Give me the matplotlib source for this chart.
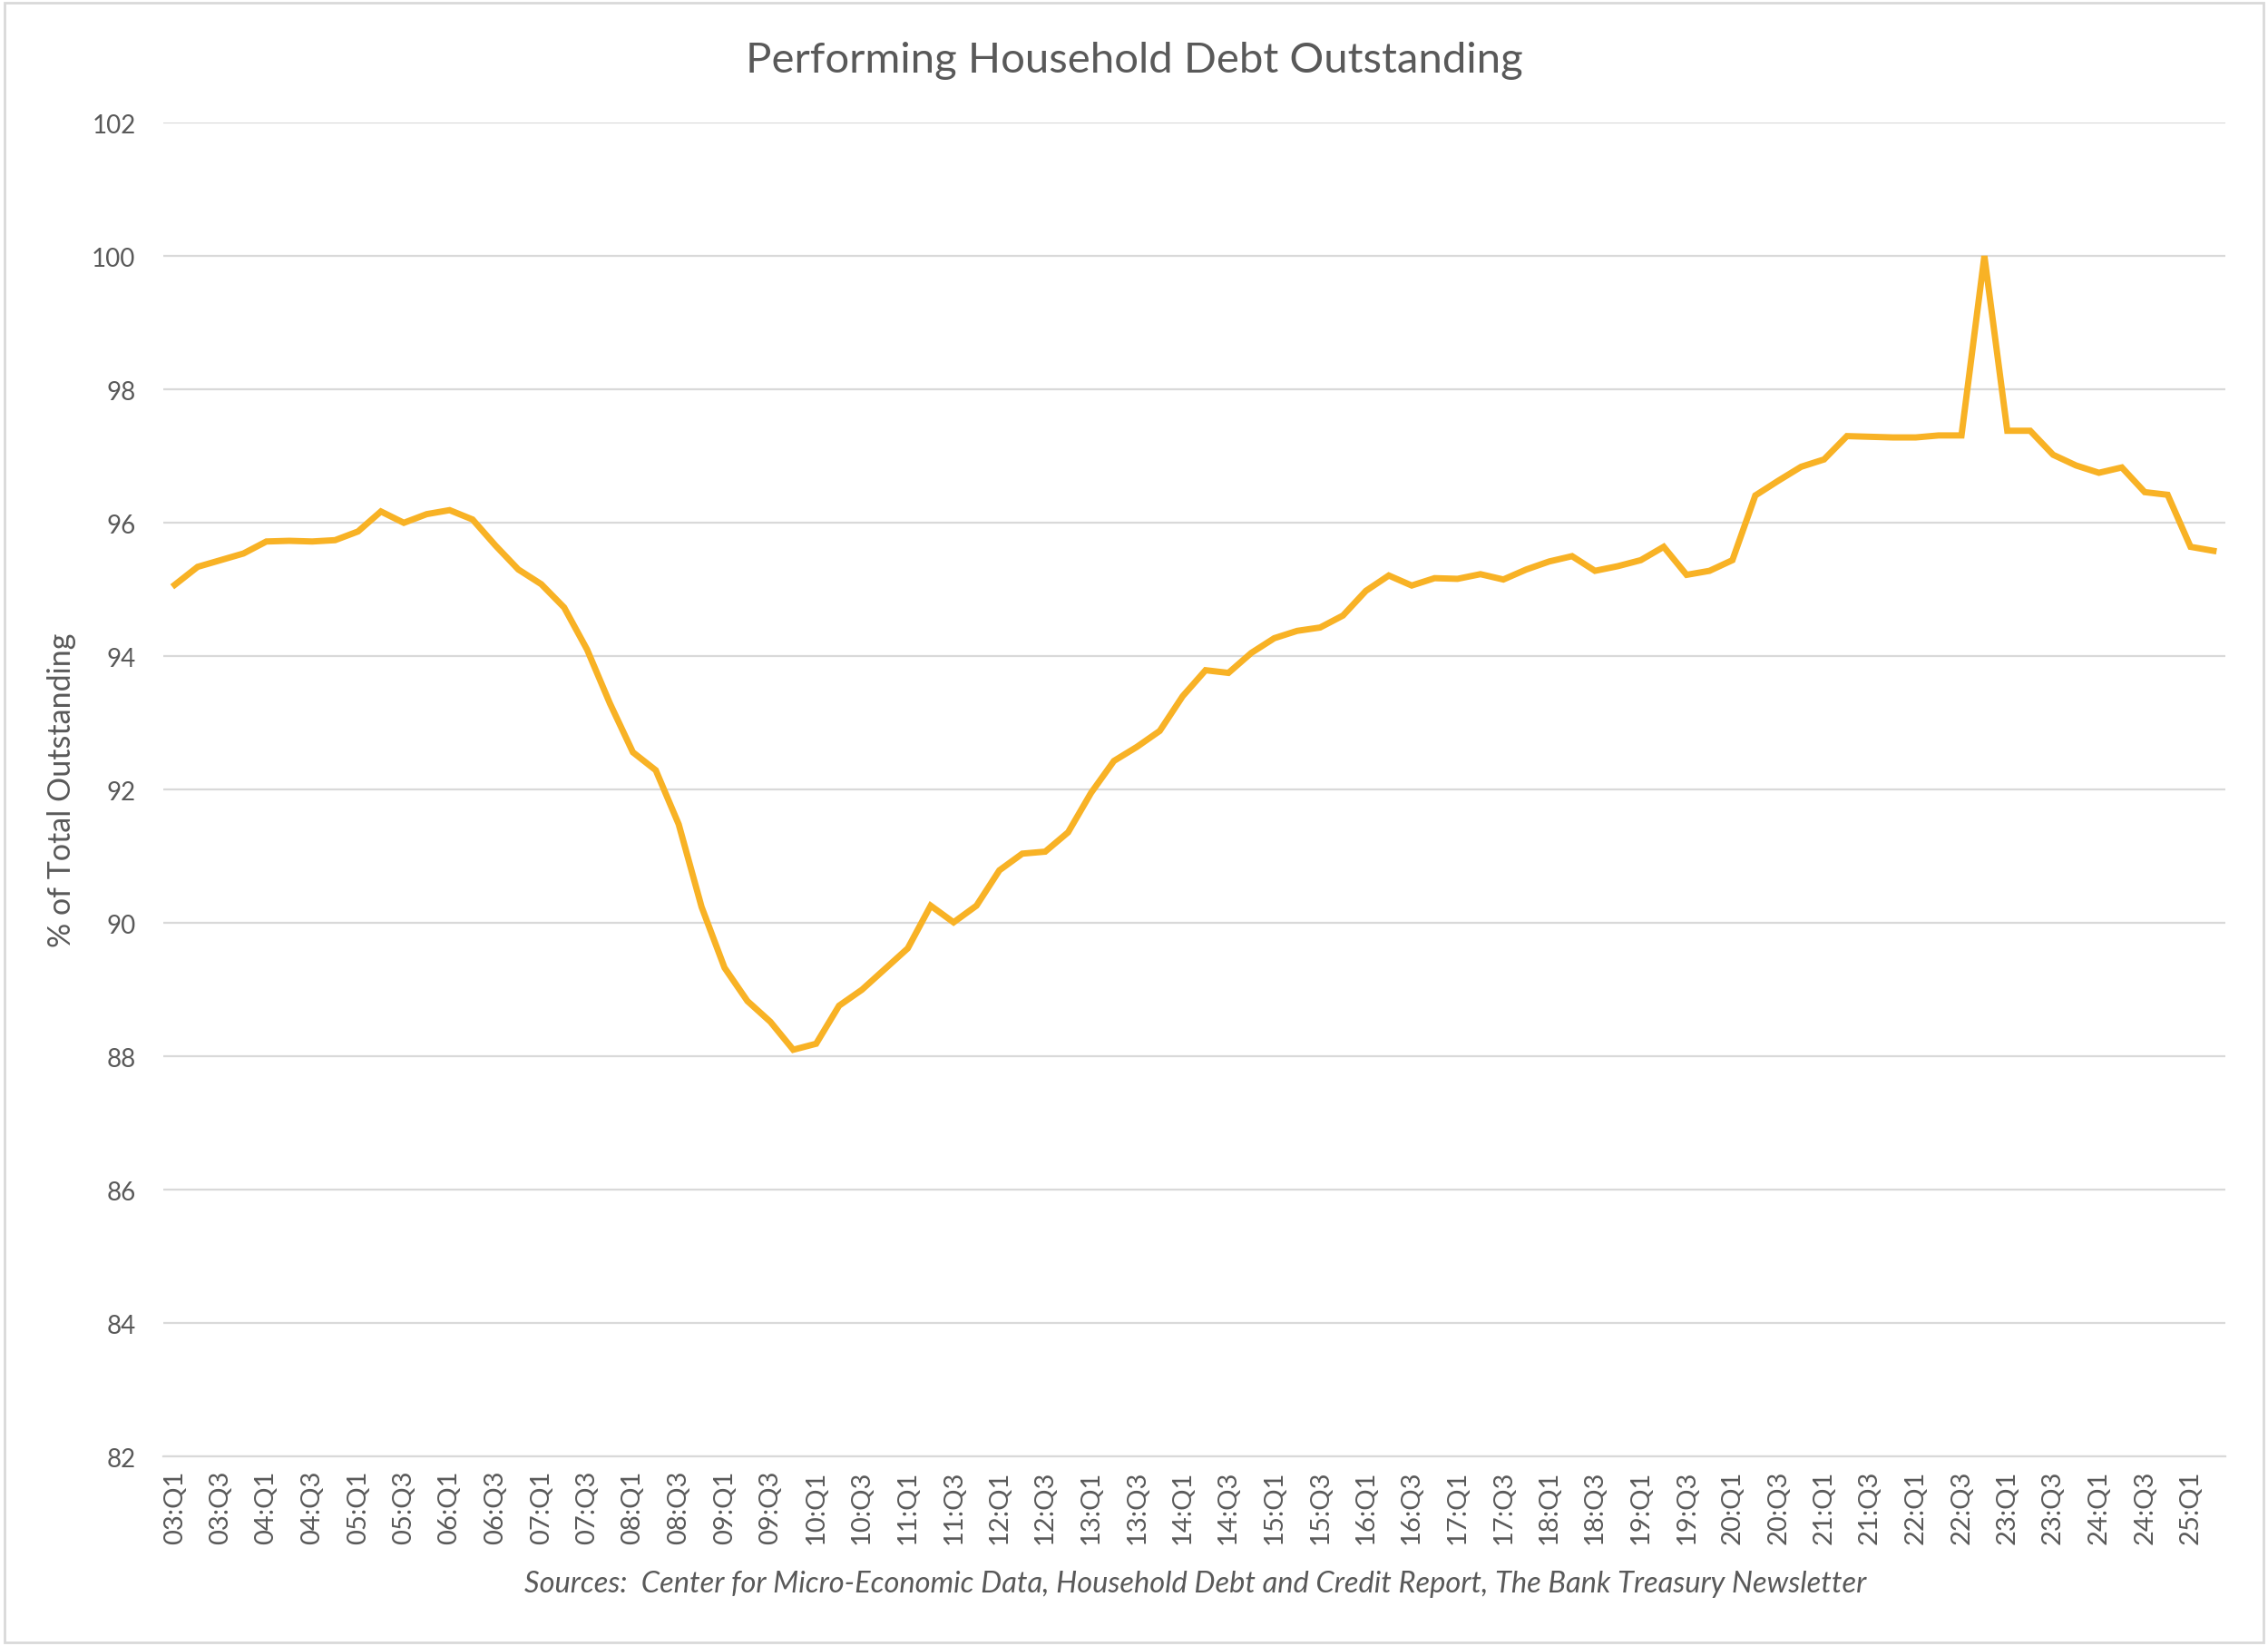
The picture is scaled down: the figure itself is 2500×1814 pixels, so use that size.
import matplotlib
matplotlib.use("Agg")
import matplotlib.pyplot as plt
from matplotlib.patches import Rectangle

# ---- data ----
years = list(range(3, 26))
quarters = [f"{y:02d}:Q{q}" for y in years for q in (1, 2, 3, 4)][:90]

values = [
    95.07, 95.34, 95.44, 95.54, 95.72, 95.73, 95.72, 95.74,
    95.87, 96.17, 96.00, 96.13, 96.19, 96.05, 95.66, 95.30,
    95.08, 94.73, 94.10, 93.29, 92.56, 92.29, 91.48, 90.24,
    89.33, 88.83, 88.52, 88.10, 88.19, 88.76, 89.00, 89.31,
    89.62, 90.26, 90.01, 90.26, 90.79, 91.04, 91.07, 91.36,
    91.95, 92.43, 92.64, 92.88, 93.40, 93.79, 93.75, 94.05,
    94.27, 94.38, 94.43, 94.61, 94.98, 95.21, 95.06, 95.17,
    95.16, 95.23, 95.15, 95.30, 95.42, 95.50, 95.28, 95.35,
    95.44, 95.64, 95.22, 95.28, 95.44, 96.41, 96.63, 96.84,
    96.95, 97.30, 97.29, 97.28, 97.28, 97.31, 97.31, 100.00,
    97.38, 97.38, 97.02, 96.86, 96.75, 96.83, 96.46, 96.42,
    95.64, 95.58,
]

y_ticks = list(range(82, 103, 2))
title = "Performing Household Debt Outstanding"
ylabel = "% of Total Outstanding"
source = "Sources:  Center for Micro-Economic Data, Household Debt and Credit Report, The Bank Treasury Newsletter"

TEXT = "#595959"
LINE = "#F8B225"
GRID = "#D9D9D9"

plt.rcParams['font.family'] = ['Lato', 'DejaVu Sans']

fig = plt.figure(figsize=(25, 18.15), dpi=100)
ax = fig.add_axes([0.072, 0.115, 0.909, 0.810])

x = list(range(len(values)))
ax.plot(x, values, color=LINE, lw=5, solid_joinstyle='miter', zorder=3)

ax.set_xlim(-0.5, len(values) - 0.5)
ax.set_ylim(82, 102)
ax.set_yticks(y_ticks)
ax.set_yticklabels([str(t) for t in y_ticks])
ax.set_xticks(x[::2])
ax.set_xticklabels(quarters[::2], rotation=90)

ax.grid(axis='y', color=GRID, lw=1.6, zorder=0)
ax.grid(axis='x', visible=False)
for s in ['left', 'right', 'top']:
    ax.spines[s].set_visible(False)
ax.spines['bottom'].set_color(GRID)
ax.spines['bottom'].set_linewidth(1.6)
ax.tick_params(axis='both', length=0, labelsize=20, labelcolor=TEXT)
ax.tick_params(axis='x', labelsize=21, pad=10)
ax.tick_params(axis='y', pad=22)

ax.set_ylabel(ylabel, fontsize=24.5, color=TEXT, labelpad=12)
fig.text(0.5, 0.963, title, ha='center', va='center', fontsize=34, color=TEXT)
fig.text(0.527, 0.038, source, ha='center', va='center', fontsize=23.5,
         color=TEXT, style='italic')

fig.patches.append(Rectangle((0.002, 0.002), 0.996, 0.996, transform=fig.transFigure,
                             fill=False, edgecolor=GRID, lw=2))

fig.savefig("out.png", dpi=100, facecolor='white')
